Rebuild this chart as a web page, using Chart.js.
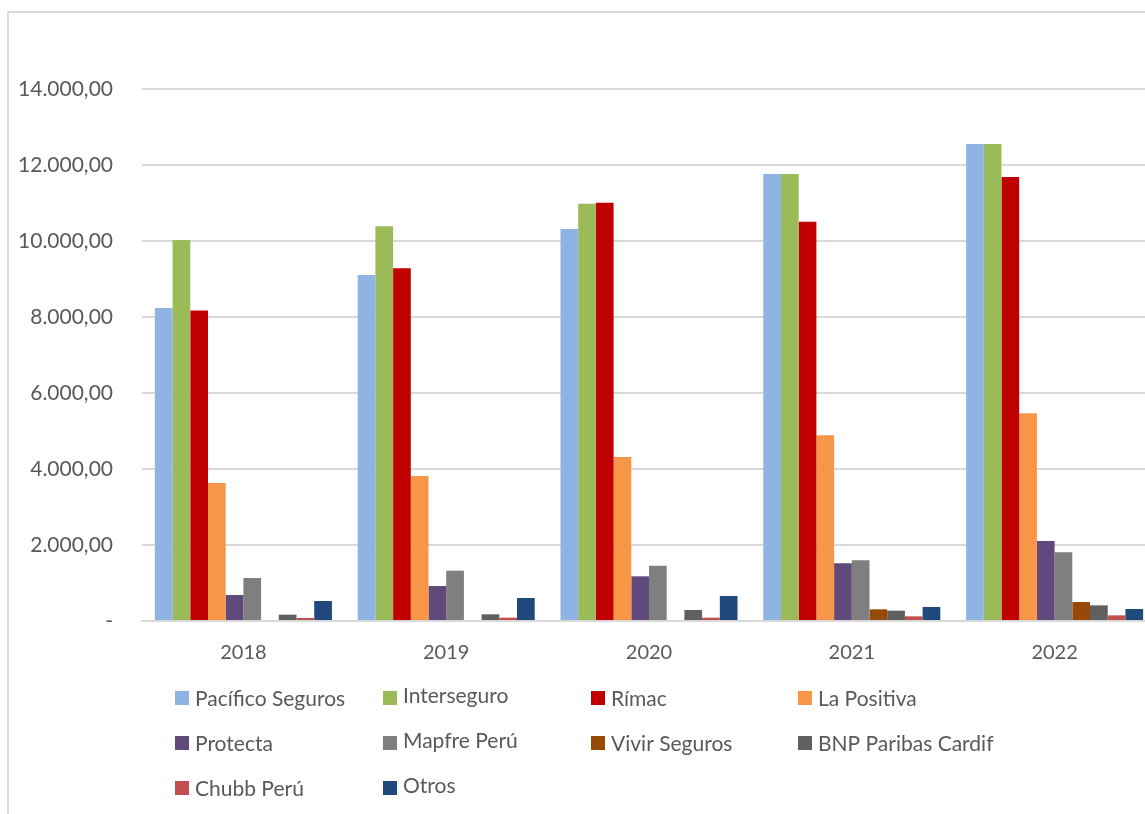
<!DOCTYPE html>
<html>
<head>
<meta charset="utf-8">
<script src="https://cdn.jsdelivr.net/npm/chart.js@4.4.1/dist/chart.umd.min.js"></script>
<style>
  html, body { margin: 0; padding: 0; background: #fff; overflow: hidden; width: 1145px; height: 814px; }
  #frame { position: absolute; left: 7px; top: 11px; width: 2000px; height: 2000px; border-left: 2px solid #d9d9d9; border-top: 2px solid #d9d9d9; box-sizing: border-box; }
  #wrap { position: absolute; left: 0; top: 0; width: 1160px; height: 814px; }
</style>
</head>
<body>
<div id="frame"></div>
<div id="wrap"><canvas id="c" width="1160" height="814"></canvas></div>
<script>
const categories = ['2018', '2019', '2020', '2021', '2022'];
const seriesNames = ['Pacífico Seguros', 'Interseguro', 'Rímac', 'La Positiva', 'Protecta', 'Mapfre Perú', 'Vivir Seguros', 'BNP Paribas Cardif', 'Chubb Perú', 'Otros'];
const pacifico    = [8237, 9105, 10316, 11763, 12553];
const interseguro = [10026, 10387, 10980, 11760, 12553];
const rimac       = [8170, 9281, 11008, 10508, 11684];
const laPositiva  = [3630, 3816, 4316, 4890, 5470];
const protecta    = [684, 921, 1175, 1518, 2105];
const mapfre      = [1131, 1324, 1456, 1596, 1807];
const vivir       = [0, 0, 0, 307, 500];
const bnp         = [166, 176, 289, 272, 412];
const chubb       = [79, 87, 87, 123, 149];
const otros       = [526, 605, 658, 368, 316];
const yTicks      = [0, 2000, 4000, 6000, 8000, 10000, 12000, 14000];

const seriesValues = [pacifico, interseguro, rimac, laPositiva, protecta, mapfre, vivir, bnp, chubb, otros];
const colors = ['#8EB4E3', '#9BBB59', '#C00000', '#F79646', '#604A7B', '#7F7F7F', '#984807', '#606060', '#C0504D', '#1F497D'];

const FONT = 'Lato, "Liberation Sans", sans-serif';
const TEXT = '#595959';

function fmt(v) {
  if (v === 0) return '-';
  const s = Math.round(v).toString().replace(/\B(?=(\d{3})+(?!\d))/g, '.');
  return s + ',00';
}

const gridLegend = {
  id: 'gridLegend',
  afterDraw(chart) {
    const ctx = chart.ctx;
    const colX = [175, 383, 591, 798];
    const rowY = [698, 743, 788];
    const textShift = [1, -2, 1, 1];
    ctx.save();
    ctx.font = '21px ' + FONT;
    ctx.textBaseline = 'middle';
    ctx.textAlign = 'left';
    chart.data.datasets.forEach((ds, i) => {
      const c = i % 4, r = Math.floor(i / 4);
      const x = colX[c], y = rowY[r];
      ctx.fillStyle = ds.backgroundColor;
      ctx.fillRect(x, y - 7, 14, 14);
      ctx.fillStyle = TEXT;
      ctx.fillText(ds.label, x + 20, y + textShift[c]);
    });
    ctx.restore();
  }
};

new Chart(document.getElementById('c'), {
  type: 'bar',
  data: {
    labels: categories,
    datasets: seriesNames.map((n, i) => ({
      label: n,
      data: seriesValues[i],
      backgroundColor: colors[i],
      borderWidth: 0,
      categoryPercentage: 0.873,
      barPercentage: 1.0
    }))
  },
  options: {
    responsive: false,
    animation: false,
    layout: { padding: { top: 89, bottom: 133, left: 0, right: 4 } },
    plugins: { legend: { display: false }, tooltip: { enabled: false } },
    scales: {
      x: {
        grid: { display: false, drawTicks: false },
        border: { display: true, color: '#d9d9d9', width: 2 },
        ticks: { color: TEXT, font: { family: FONT, size: 20 }, padding: 20 },
        afterFit(s) { s.height = 60; }
      },
      y: {
        min: 0, max: 14000,
        afterBuildTicks(s) { s.ticks = yTicks.map(v => ({ value: v })); },
        grid: { color: '#d9d9d9', lineWidth: 2, drawTicks: false },
        border: { display: false },
        ticks: { color: TEXT, font: { family: FONT, size: 21 }, padding: 29, callback: v => fmt(v) },
        afterFit(s) { s.width = 142; }
      }
    }
  },
  plugins: [gridLegend]
});
</script>
</body>
</html>
